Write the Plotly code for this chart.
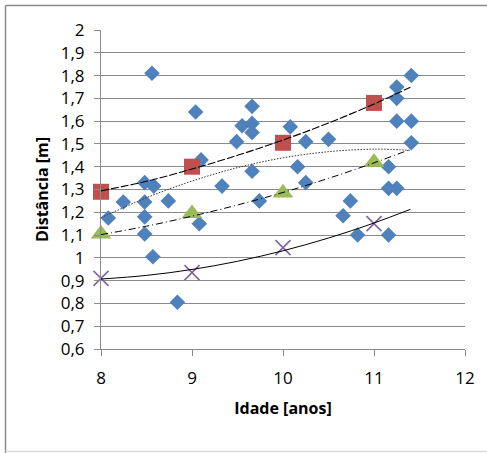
import plotly.graph_objects as go

# ---- data ----
diam_x = [8.56, 9.04, 9.66, 9.55, 9.66, 9.66, 9.49, 10.08, 10.25, 10.50, 10.16, 10.25,
          9.66, 9.74, 9.33, 9.10, 9.08, 8.74, 8.48, 8.58, 8.48, 8.48, 8.48, 8.57,
          8.245, 8.08, 8.84, 10.74, 10.66, 10.82, 11.16, 11.16, 11.16, 11.25, 11.25,
          11.25, 11.25, 11.41, 11.41, 11.41]
diam_y = [1.81, 1.64, 1.665, 1.58, 1.59, 1.55, 1.51, 1.575, 1.51, 1.52, 1.40, 1.33,
          1.38, 1.25, 1.315, 1.43, 1.15, 1.25, 1.33, 1.315, 1.245, 1.18, 1.105, 1.005,
          1.245, 1.175, 0.805, 1.25, 1.185, 1.10, 1.10, 1.40, 1.305, 1.305, 1.75,
          1.70, 1.60, 1.80, 1.60, 1.505]

ages = [8, 9, 10, 11]
sq_y = [1.29, 1.40, 1.505, 1.68]
tri_y = [1.105, 1.195, 1.285, 1.42]
x_y = [0.91, 0.935, 1.045, 1.15]

# trendline samples
trend_x = [8, 8.5, 9, 9.5, 10, 10.5, 11, 11.4]
trend_sq = [1.294, 1.336, 1.39, 1.45, 1.517, 1.592, 1.675, 1.749]
trend_diam = [1.176, 1.264, 1.337, 1.396, 1.439, 1.466, 1.477, 1.472]
trend_tri = [1.102, 1.139, 1.183, 1.232, 1.287, 1.349, 1.417, 1.476]
trend_x_m = [0.907, 0.923, 0.949, 0.985, 1.031, 1.087, 1.153, 1.213]

y_ticks = [0.6, 0.7, 0.8, 0.9, 1.0, 1.1, 1.2, 1.3, 1.4, 1.5, 1.6, 1.7, 1.8, 1.9, 2.0]
y_tick_text = ["0,6", "0,7", "0,8", "0,9", "1", "1,1", "1,2", "1,3", "1,4", "1,5",
               "1,6", "1,7", "1,8", "1,9", "2"]
x_ticks = [8, 9, 10, 11, 12]
x_tick_text = ["8", "9", "10", "11", "12"]

BLUE = "#4F81BD"
RED = "#C0504D"
GREEN = "#9BBB59"
PURPLE = "#8064A2"
GRID = "#8a8a8a"
FONT = "Open Sans"

fig = go.Figure()

fig.add_trace(go.Scatter(x=diam_x, y=diam_y, mode="markers", cliponaxis=False,
                         marker=dict(symbol="diamond", size=12, color=BLUE,
                                     line=dict(width=0))))
fig.add_trace(go.Scatter(x=ages, y=sq_y, mode="markers", cliponaxis=False,
                         marker=dict(symbol="square", size=16, color=RED,
                                     line=dict(width=0))))
fig.add_trace(go.Scatter(x=ages, y=tri_y, mode="markers", cliponaxis=False,
                         marker=dict(symbol="triangle-up", size=18, color=GREEN,
                                     line=dict(width=0))))
fig.add_trace(go.Scatter(x=ages, y=x_y, mode="markers", cliponaxis=False,
                         marker=dict(symbol="x-thin-open", size=15, color=PURPLE,
                                     line=dict(width=1.6, color=PURPLE))))

line_kw = dict(mode="lines", line_shape="spline", hoverinfo="skip", cliponaxis=False)
fig.add_trace(go.Scatter(x=trend_x, y=trend_sq,
                         line=dict(color="black", width=1.1, dash="8px,2px"), **line_kw))
fig.add_trace(go.Scatter(x=trend_x, y=trend_diam,
                         line=dict(color="#333333", width=1, dash="1.5px,1.5px"), **line_kw))
fig.add_trace(go.Scatter(x=trend_x, y=trend_tri,
                         line=dict(color="black", width=1, dash="7px,3px,1px,3px"), **line_kw))
fig.add_trace(go.Scatter(x=trend_x, y=trend_x_m,
                         line=dict(color="black", width=1), **line_kw))

L, T, W, H = 101, 30, 364, 319


def px(p):
    return (p - L) / W


def py(p):
    return (T + H - p) / H


fig.update_layout(
    width=487, height=453,
    margin=dict(l=L, r=487 - L - W, t=T, b=453 - T - H),
    paper_bgcolor="white", plot_bgcolor="white",
    showlegend=False,
    font=dict(family=FONT, size=17, color="black"),
    xaxis=dict(range=[8, 12], tickvals=x_ticks, ticktext=x_tick_text,
               showgrid=False, zeroline=False, showline=True, linecolor=GRID,
               linewidth=1, ticks="outside", ticklen=6, tickcolor=GRID,
               ticklabelstandoff=8,
               tickfont=dict(family=FONT, size=17),
               title=dict(text="<b>Idade [anos]</b>", standoff=14,
                          font=dict(family=FONT, size=16))),
    yaxis=dict(range=[0.6, 2.0], tickvals=y_ticks, ticktext=y_tick_text,
               showgrid=True, gridcolor=GRID, gridwidth=1, zeroline=False,
               showline=True, linecolor=GRID, linewidth=1,
               ticks="outside", ticklen=6, tickcolor=GRID,
               ticklabelstandoff=6,
               tickfont=dict(family=FONT, size=17),
               title=dict(text="<b>Distância [m]</b>", standoff=8,
                          font=dict(family=FONT, size=16))),
    shapes=[
        dict(type="line", xref="paper", yref="paper", x0=px(5.5), x1=px(487), y0=py(5.5), y1=py(5.5),
             line=dict(color="#8c8c8c", width=1.5)),
        dict(type="line", xref="paper", yref="paper", x0=px(5.5), x1=px(5.5), y0=py(5.5), y1=py(453),
             line=dict(color="#8c8c8c", width=1.5)),
        dict(type="line", xref="paper", yref="paper", x0=px(5.5), x1=px(487), y0=py(451.5), y1=py(451.5),
             line=dict(color="#d9d9d9", width=1.5)),
    ],
)

fig.write_html("out.html")
